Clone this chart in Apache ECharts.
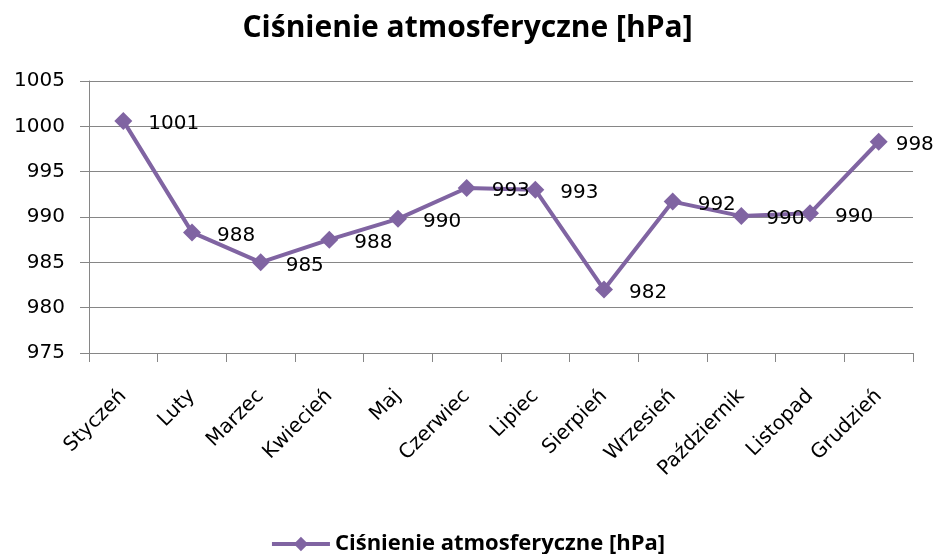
<!DOCTYPE html>
<html>
<head>
<meta charset="utf-8">
<script src="https://cdn.jsdelivr.net/npm/echarts@6/dist/echarts.min.js"></script>
<style>
  html, body { margin: 0; padding: 0; background: #fff; }
  #main { width: 935px; height: 554px; }
</style>
</head>
<body>
<div id="main"></div>
<script>
// dane
var months = ["Styczeń", "Luty", "Marzec", "Kwiecień", "Maj", "Czerwiec", "Lipiec", "Sierpień", "Wrzesień", "Październik", "Listopad", "Grudzień"];
var pressure = [1000.6, 988.3, 985.0, 987.5, 989.8, 993.2, 993.0, 982.0, 991.7, 990.1, 990.4, 998.3];
var seriesName = "Ciśnienie atmosferyczne [hPa]";

var chartDom = document.getElementById("main");
var myChart = echarts.init(chartDom);
var option;

// ostatnia etykieta bliżej punktu, żeby zmieściła się w oknie
var seriesData = pressure.map(function (v, i) {
  if (i === pressure.length - 1) {
    return { value: v, label: { distance: 8 } };
  }
  return v;
});

option = {
  animation: false,
  textStyle: { fontFamily: "DejaVu Sans" },
  title: {
    text: seriesName,
    left: "center",
    top: 8,
    textStyle: { fontFamily: "Open Sans", fontWeight: "bold", fontSize: 30, color: "#000" },
  },
  legend: {
    top: 528,
    left: "center",
    itemWidth: 58,
    itemHeight: 18,
    itemGap: 4,
    data: [seriesName],
    lineStyle: { width: 4 },
    textStyle: { fontFamily: "Open Sans", fontWeight: "bold", fontSize: 22, color: "#000" },
  },
  grid: { left: 89, right: 22, top: 81, bottom: 201 },
  xAxis: {
    type: "category",
    data: months,
    boundaryGap: true,
    axisLine: { lineStyle: { color: "#868686", width: 1 } },
    axisTick: { show: true, length: 9, alignWithLabel: false, lineStyle: { color: "#868686" } },
    axisLabel: { rotate: 45, fontSize: 20, color: "#000", margin: 40, interval: 0 },
  },
  yAxis: {
    type: "value",
    min: 975,
    max: 1005,
    interval: 5,
    axisLine: { show: true, lineStyle: { color: "#868686", width: 1 } },
    axisTick: { show: true, length: 9, lineStyle: { color: "#868686" } },
    splitLine: { lineStyle: { color: "#868686", width: 1 } },
    axisLabel: { fontSize: 20, color: "#000", margin: 24, formatter: function (v) { return String(v); } },
  },
  series: [
    {
      name: seriesName,
      type: "line",
      data: seriesData,
      symbol: "diamond",
      symbolSize: 18,
      lineStyle: { color: "#8064A2", width: 4 },
      itemStyle: { color: "#8064A2" },
      label: {
        show: true,
        position: "right",
        distance: 16,
        offset: [0, 3],
        fontSize: 20,
        color: "#000",
        formatter: function (p) { return Math.round(p.value); },
      },
    },
  ],
};

option && myChart.setOption(option);
</script>
</body>
</html>
